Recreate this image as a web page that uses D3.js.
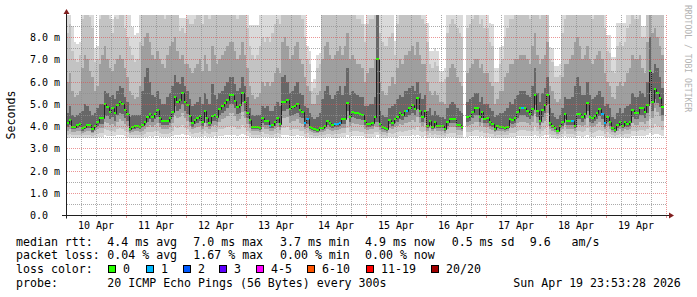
<!DOCTYPE html>
<html>
<head>
<meta charset="utf-8">
<script src="https://cdn.jsdelivr.net/npm/d3@7"></script>
<style>
  body { margin: 0; background: #fff; }
  text { font-family: "DejaVu Sans Mono", monospace; fill: #000; white-space: pre; }
</style>
</head>
<body>
<div id="chart"></div>
<script>
// smokeping "last 10 days", hourly steps starting 10 Apr 00:00
var startTime = Date.UTC(2026, 3, 10, 0, 0, 0);
var endTime = Date.UTC(2026, 3, 20, 0, 0, 0);
var stepMs = 3600 * 1000;

var dayLabels = ["10 Apr", "11 Apr", "12 Apr", "13 Apr", "14 Apr", "15 Apr", "16 Apr", "17 Apr", "18 Apr", "19 Apr"];
var yTicks = [0, 1, 2, 3, 4, 5, 6, 7, 8];
var yTickLabels = ["0.0", "1.0 m", "2.0 m", "3.0 m", "4.0 m", "5.0 m", "6.0 m", "7.0 m", "8.0 m"];

// median rtt (ms) per hour
var median = [
  4.12,4.27,3.97,3.97,4.05,4.08,3.93,3.98,4.05,4.05, 3.86,4.02,4.2,4.36,4.36,4.99,4.87,4.65,4.8,4.59,
  4.94,5.08,5.0,4.72,4.54,3.87,3.97,4.0,4.02,3.97, 4.05,4.2,4.42,4.53,4.42,4.55,4.72,4.36,4.23,4.23,
  4.23,4.35,4.65,5.32,5.09,5.17,5.47,5.09,4.94,4.45, 4.12,4.27,4.35,4.47,4.2,4.68,4.35,4.15,4.47,4.5,
  4.42,4.79,4.9,5.02,5.17,5.39,5.42,5.14,4.87,4.94, 5.51,5.09,4.6,4.27,3.97,3.97,3.97,3.9,4.35,4.23,
  4.23,4.02,4.05,4.2,4.35,4.08,5.09,5.1,5.17,4.77, 4.87,4.9,4.98,4.72,4.65,4.12,4.3,3.97,3.9,3.85,
  3.82,3.93,3.9,4.0,4.23,4.12,4.05,4.1,4.1,4.15, 4.3,4.3,5.02,4.42,4.65,4.6,4.57,4.53,4.5,4.23,
  4.08,4.1,4.12,4.42,7.0,4.08,3.95,3.9,3.87,4.27, 4.15,4.3,4.42,4.57,4.5,4.68,4.7,4.82,4.94,4.77,
  5.25,4.68,4.42,4.68,4.02,4.23,3.97,4.2,4.02,4.0, 4.0,3.87,4.17,4.32,4.32,4.32,4.05,4.05,3.97,null,
  4.42,4.47,4.62,4.82,4.82,4.42,4.65,4.32,4.35,4.17, 4.08,3.87,4.02,3.97,3.97,3.93,3.97,4.32,4.27,4.35,
  4.65,4.82,4.8,4.82,4.68,4.54,4.77,5.39,4.68,4.23, 4.72,4.94,5.42,4.12,4.02,3.9,3.78,4.02,4.17,4.53,
  4.23,4.23,4.23,4.02,4.53,4.53,4.42,4.53,5.02,4.42, 4.35,4.45,4.57,4.77,4.53,4.12,4.42,4.2,3.9,3.82,
  4.05,4.2,4.02,4.2,4.08,4.2,4.72,4.6,4.57,4.82, 4.82,4.62,4.94,6.47,5.09,5.69,5.51,5.27,4.87,null
];

// hours in which 1 of 20 pings was lost
var lossOneSteps = [81, 95, 96, 107, 108, 109, 136, 182, 202, 214, 215];

// smoke: sorted ping quantiles (ms); 9.5 = above the top of the graph
var p20 = [
  9.5,9.5,8.5,7.8,7.7,7.8,9.5,9.5,9.5,9.5, 9.5,7.5,7.6,9.5,9.5,9.5,9.5,9.5,8.8,9.5,
  9.5,9.5,9.5,9.5,9.5,9.5,8.45,8.1,8.2,9.0, 9.5,9.5,9.5,9.5,9.5,9.5,9.5,9.5,9.5,9.5,
  9.5,9.5,9.5,9.5,9.5,8.85,8.85,8.85,9.5,9.5, 9.5,9.5,9.5,9.5,9.5,9.5,9.5,9.5,9.5,9.5,
  9.5,9.5,9.5,9.5,9.5,9.5,9.5,9.5,9.5,9.5, 9.5,9.5,9.5,8.55,8.55,8.55,8.55,9.5,9.5,9.5,
  9.5,9.5,9.5,9.5,9.5,9.5,9.5,9.5,9.5,9.5, 9.5,9.5,9.5,9.5,9.5,9.5,7.6,7.4,6.0,6.1,
  7.2,7.3,9.5,9.5,9.5,9.5,9.5,9.5,9.5,9.5, 9.5,9.5,9.5,9.5,9.5,9.5,9.5,9.5,9.5,8.6,
  9.5,9.5,9.5,9.5,9.5,9.5,9.5,9.5,9.5,9.5, 9.5,7.85,9.5,9.5,9.5,9.5,9.5,9.5,9.5,9.5,
  9.5,9.5,9.5,9.5,8.65,7.4,7.4,7.5,7.4,6.5, 6.5,6.6,9.5,9.5,9.5,9.5,9.5,9.5,9.5,null,
  9.5,9.5,9.5,9.5,9.5,9.5,9.5,9.5,9.5,8.65, 8.6,6.6,6.6,7.55,7.6,9.5,9.5,9.5,9.5,9.5,
  9.5,9.5,9.5,9.5,9.5,9.5,9.5,9.5,9.5,9.5, 9.5,9.5,9.5,7.55,7.5,6.7,6.7,6.8,9.5,9.5,
  9.5,9.5,9.5,9.5,9.5,9.5,9.5,9.5,9.5,9.5, 9.5,9.5,9.5,9.5,9.5,9.5,8.1,8.1,7.1,7.1,
  8.65,8.65,8.65,8.65,9.5,9.5,9.5,9.5,9.5,9.5, 8.5,8.5,9.5,9.5,9.5,9.5,9.5,9.5,9.5,null
];
var p17 = [
  8.2,8.6,7.4,7.0,6.9,7.2,8.8,9.5,9.5,8.9, 8.4,6.9,7.0,8.8,9.5,9.5,9.2,8.8,8.2,8.9,
  8.8,9.2,9.0,8.4,8.0,7.6,7.2,6.9,7.0,7.8, 9.5,9.5,9.5,9.5,9.2,9.0,9.5,9.5,9.0,8.8,
  9.3,9.5,9.5,9.5,9.2,8.3,8.4,8.2,8.8,8.6, 8.6,8.8,9.0,9.2,8.6,9.5,9.0,8.8,9.5,9.5,
  9.0,9.2,9.5,9.5,9.5,9.5,9.5,9.2,8.8,9.0, 9.5,9.0,8.4,7.6,7.2,7.0,7.2,7.6,8.0,7.8,
  8.0,7.8,8.2,8.6,8.8,8.6,9.5,9.5,9.5,9.2, 9.2,9.5,9.5,9.0,8.8,8.0,7.0,6.8,5.6,5.7,
  6.6,6.8,9.0,9.5,9.5,9.2,9.0,9.2,9.5,9.5, 9.2,9.5,9.5,9.0,9.2,9.0,8.8,8.8,8.6,7.8,
  8.6,8.8,8.8,9.2,9.5,8.2,7.8,7.6,7.6,8.0, 8.2,7.2,8.6,9.0,9.0,9.2,9.2,9.5,9.5,9.2,
  9.5,9.2,8.8,8.6,7.8,6.8,6.6,6.9,6.7,6.0, 6.0,6.1,8.2,8.6,8.8,8.6,8.4,8.2,8.0,null,
  8.4,8.6,8.8,9.0,9.0,8.6,8.8,8.4,8.4,7.8, 7.6,6.0,6.0,6.8,7.0,8.0,8.4,8.8,8.8,9.0,
  9.0,9.2,9.2,9.2,9.0,8.8,9.5,9.5,9.2,8.8, 9.0,9.2,9.5,7.0,6.9,6.2,6.2,6.3,8.2,8.8,
  9.0,9.0,9.2,9.5,9.5,9.5,9.2,9.2,9.5,9.0, 8.8,9.0,9.2,9.5,9.0,8.4,7.4,7.3,6.5,6.4,
  7.6,7.8,7.6,7.8,8.4,8.6,9.0,8.8,8.8,9.0, 8.0,8.0,9.5,9.5,9.5,9.5,9.5,9.5,9.2,null
];
var p14 = [
  6.0,6.4,5.6,5.3,5.4,5.6,6.6,7.2,7.0,6.5, 6.2,5.6,5.8,6.8,7.2,7.6,7.0,6.6,6.5,6.8,
  7.0,7.2,7.0,6.6,6.2,5.6,5.4,5.2,5.3,5.8, 7.6,8.0,8.2,7.8,7.2,7.0,7.4,7.0,6.8,6.6,
  7.2,7.6,7.8,8.0,7.4,7.0,7.2,6.8,6.8,6.6, 6.4,6.6,6.8,7.0,6.5,7.2,6.8,6.5,7.6,7.2,
  6.8,7.0,7.2,7.4,7.6,7.8,7.8,7.4,7.0,7.2, 7.8,7.2,6.6,5.8,5.4,5.2,5.3,5.5,6.0,5.8,
  6.0,5.8,6.0,6.4,6.6,6.4,7.8,8.0,7.6,7.0, 7.2,7.6,7.8,7.0,6.8,6.2,5.8,5.6,5.0,5.0,
  5.4,5.6,7.0,7.6,7.8,7.2,7.0,7.2,7.4,7.6, 7.2,7.6,8.2,7.0,7.2,7.0,6.8,6.8,6.6,6.0,
  6.4,6.6,6.6,7.0,9.5,6.0,5.6,5.4,5.4,5.8, 6.2,5.9,6.6,7.0,6.8,7.2,7.2,7.4,7.6,7.2,
  7.8,7.2,6.8,6.8,6.0,5.6,5.4,5.6,5.4,5.1, 5.1,5.0,6.2,6.6,6.8,6.6,6.2,6.0,5.8,null,
  6.4,6.6,6.8,7.0,7.0,6.6,6.8,6.4,6.4,6.0, 5.8,5.0,5.2,5.6,5.6,6.2,6.4,6.8,6.8,7.0,
  7.0,7.2,7.2,7.2,7.0,6.8,7.6,8.2,7.2,6.8, 7.0,7.2,7.8,5.8,5.6,5.2,5.1,5.2,6.2,6.8,
  6.8,7.0,7.2,7.8,8.0,7.6,7.0,7.2,7.6,7.0, 6.8,7.0,7.2,7.4,7.0,6.4,6.0,5.8,5.3,5.2,
  5.8,6.0,5.8,6.0,6.4,6.6,7.2,7.0,7.0,7.2, 6.6,6.4,7.8,9.0,8.2,8.4,8.0,7.6,7.2,null
];
var p12 = [
  4.6,4.9,4.5,4.4,4.5,4.6,4.7,5.0,4.9,4.7, 4.5,4.6,4.8,5.0,5.0,5.6,5.5,5.3,5.4,5.2,
  5.6,5.8,5.7,5.3,5.1,4.4,4.5,4.5,4.5,4.5, 5.6,6.2,6.6,6.0,5.4,5.3,5.6,5.2,5.0,5.0,
  5.3,5.5,5.8,6.3,6.0,5.9,6.2,5.8,5.6,5.2, 4.9,5.0,5.1,5.3,5.0,5.5,5.2,5.0,5.9,5.4,
  5.2,5.5,5.6,5.8,6.0,6.2,6.2,5.9,5.6,5.7, 6.2,5.8,5.3,4.8,4.5,4.45,4.5,4.5,4.9,4.8,
  4.9,4.7,4.7,4.9,5.1,4.9,6.2,6.3,6.0,5.5, 5.6,5.8,6.0,5.5,5.4,4.9,4.8,4.6,4.4,4.3,
  4.4,4.6,5.2,5.6,5.8,5.4,5.2,5.4,5.6,5.8, 5.4,5.8,6.6,5.4,5.6,5.5,5.4,5.3,5.3,4.9,
  4.9,5.0,5.0,5.3,9.5,4.7,4.5,4.4,4.4,4.8, 4.9,5.0,5.2,5.4,5.3,5.6,5.6,5.7,5.8,5.6,
  6.0,5.5,5.2,5.4,4.7,4.8,4.5,4.7,4.5,4.4, 4.4,4.3,4.8,5.0,5.1,5.0,4.8,4.7,4.6,null,
  5.1,5.2,5.3,5.5,5.5,5.1,5.3,5.0,5.0,4.8, 4.7,4.4,4.5,4.6,4.6,4.7,4.8,5.1,5.0,5.2,
  5.4,5.6,5.6,5.6,5.4,5.3,5.8,6.6,5.5,5.1, 5.5,5.7,6.2,4.8,4.6,4.4,4.3,4.5,4.8,5.3,
  5.2,5.2,5.3,5.8,6.2,5.8,5.4,5.4,6.0,5.4, 5.2,5.3,5.4,5.6,5.3,4.9,5.0,4.8,4.4,4.3,
  4.6,4.8,4.6,4.8,4.9,5.0,5.5,5.3,5.3,5.6, 5.5,5.3,6.0,8.0,6.4,6.8,6.6,6.2,5.7,null
];
var p08 = [
  3.95,4.05,3.85,3.85,3.9,3.95,3.8,3.85,3.9,3.9, 3.75,3.9,4.0,4.1,4.1,4.5,4.45,4.3,4.4,4.25,
  4.5,4.6,4.55,4.35,4.25,3.78,3.85,3.88,3.9,3.85, 3.95,4.05,4.2,4.3,4.2,4.3,4.4,4.15,4.05,4.05,
  4.05,4.15,4.4,4.9,4.7,4.75,5.0,4.7,4.55,4.2, 3.98,4.08,4.12,4.22,4.02,4.4,4.12,4.0,4.22,4.25,
  4.2,4.5,4.6,4.7,4.8,5.0,5.0,4.8,4.55,4.6, 5.1,4.7,4.35,4.1,3.88,3.88,3.88,3.82,4.15,4.05,
  4.05,3.9,3.92,4.02,4.12,3.96,4.7,4.7,4.75,4.45, 4.5,4.55,4.6,4.4,4.35,3.98,4.1,3.88,3.82,3.78,
  3.75,3.85,3.82,3.9,4.05,3.98,3.92,3.96,3.96,4.0, 4.1,4.1,4.7,4.2,4.4,4.35,4.32,4.3,4.28,4.05,
  3.96,3.98,4.0,4.2,4.2,3.96,3.85,3.82,3.8,4.08, 4.0,4.12,4.2,4.32,4.28,4.4,4.42,4.5,4.58,4.48,
  4.75,4.4,4.2,4.4,3.92,4.05,3.88,4.02,3.92,3.9, 3.9,3.8,4.02,4.12,4.12,4.12,3.95,3.95,3.88,null,
  4.2,4.25,4.35,4.5,4.5,4.2,4.38,4.12,4.15,4.02, 3.96,3.8,3.92,3.88,3.88,3.84,3.88,4.12,4.08,4.12,
  4.38,4.5,4.48,4.5,4.4,4.3,4.45,4.95,4.4,4.05, 4.42,4.58,4.98,4.0,3.92,3.82,3.72,3.92,4.02,4.3,
  4.05,4.05,4.05,3.92,4.3,4.3,4.2,4.3,4.7,4.2, 4.15,4.22,4.32,4.45,4.3,3.98,4.2,4.02,3.82,3.75,
  3.92,4.02,3.92,4.02,3.96,4.02,4.4,4.32,4.3,4.48, 4.48,4.35,4.58,5.6,4.7,5.2,5.05,4.85,4.52,null
];
var p06 = [
  3.8,3.85,3.75,3.75,3.78,3.8,3.7,3.75,3.78,3.78, 3.68,3.78,3.85,3.92,3.92,4.2,4.15,4.05,4.1,4.0,
  4.2,4.3,4.25,4.1,4.0,3.7,3.75,3.77,3.78,3.75, 3.8,3.88,3.98,4.05,3.98,4.05,4.12,3.95,3.88,3.88,
  3.88,3.95,4.12,4.5,4.35,4.4,4.6,4.35,4.25,4.0, 3.85,3.92,3.95,4.02,3.88,4.12,3.95,3.86,4.02,4.04,
  4.02,4.2,4.3,4.35,4.45,4.6,4.6,4.45,4.25,4.3, 4.65,4.35,4.08,3.92,3.76,3.76,3.76,3.72,3.95,3.88,
  3.88,3.78,3.8,3.86,3.95,3.82,4.35,4.35,4.4,4.15, 4.22,4.25,4.3,4.12,4.08,3.85,3.92,3.76,3.72,3.7,
  3.68,3.75,3.73,3.78,3.88,3.84,3.8,3.83,3.83,3.86, 3.92,3.92,4.35,4.0,4.12,4.1,4.08,4.05,4.04,3.88,
  3.83,3.85,3.86,4.0,3.95,3.83,3.75,3.72,3.7,3.9, 3.86,3.95,4.0,4.08,4.04,4.14,4.15,4.2,4.26,4.18,
  4.4,4.14,3.99,4.14,3.8,3.9,3.76,3.88,3.8,3.78, 3.78,3.7,3.88,3.95,3.95,3.95,3.82,3.82,3.76,null,
  4.0,4.03,4.1,4.2,4.2,4.0,4.12,3.94,3.96,3.88, 3.84,3.72,3.8,3.76,3.76,3.74,3.76,3.95,3.92,3.95,
  4.12,4.2,4.2,4.2,4.14,4.05,4.18,4.55,4.12,3.88, 4.15,4.25,4.58,3.86,3.8,3.72,3.66,3.8,3.88,4.05,
  3.88,3.88,3.88,3.8,4.05,4.05,3.99,4.05,4.35,4.0, 3.96,4.02,4.08,4.18,4.05,3.85,4.0,3.88,3.72,3.68,
  3.8,3.88,3.8,3.88,3.83,3.88,4.14,4.06,4.05,4.18, 4.18,4.08,4.25,5.0,4.35,4.8,4.62,4.45,4.22,null
];
var p03 = [
  3.62,3.65,3.6,3.6,3.62,3.62,3.58,3.6,3.62,3.62, 3.56,3.62,3.66,3.7,3.7,3.85,3.82,3.76,3.8,3.75,
  3.85,3.9,3.88,3.78,3.72,3.58,3.6,3.61,3.62,3.6, 3.62,3.66,3.72,3.75,3.72,3.76,3.8,3.7,3.66,3.66,
  3.66,3.7,3.8,4.0,3.92,3.95,4.05,3.92,3.85,3.75, 3.65,3.68,3.7,3.74,3.66,3.78,3.7,3.65,3.74,3.75,
  3.74,3.85,3.88,3.92,3.96,4.02,4.02,3.95,3.85,3.88, 4.05,3.92,3.78,3.7,3.6,3.6,3.6,3.58,3.72,3.66,
  3.66,3.62,3.62,3.65,3.7,3.63,3.92,3.92,3.95,3.82, 3.85,3.86,3.88,3.8,3.78,3.65,3.7,3.6,3.58,3.57,
  3.56,3.6,3.59,3.62,3.66,3.64,3.62,3.63,3.63,3.65, 3.7,3.7,3.92,3.72,3.78,3.77,3.76,3.75,3.75,3.66,
  3.63,3.64,3.65,3.72,3.75,3.63,3.6,3.58,3.57,3.68, 3.65,3.7,3.72,3.76,3.75,3.8,3.8,3.83,3.86,3.82,
  3.95,3.8,3.72,3.8,3.62,3.67,3.6,3.66,3.62,3.62, 3.62,3.57,3.66,3.7,3.7,3.7,3.62,3.62,3.6,null,
  3.72,3.74,3.77,3.82,3.82,3.72,3.78,3.7,3.7,3.66, 3.63,3.57,3.62,3.6,3.6,3.58,3.6,3.7,3.68,3.7,
  3.78,3.82,3.82,3.82,3.8,3.76,3.8,4.0,3.8,3.66, 3.8,3.86,4.02,3.65,3.62,3.58,3.55,3.62,3.66,3.76,
  3.66,3.66,3.66,3.62,3.76,3.76,3.72,3.76,3.92,3.72, 3.7,3.72,3.76,3.82,3.76,3.65,3.72,3.66,3.58,3.56,
  3.62,3.66,3.62,3.66,3.63,3.66,3.8,3.76,3.76,3.82, 3.82,3.78,3.86,4.3,3.92,4.1,4.02,3.95,3.84,null
];
var p01 = [
  3.48,3.5,3.47,3.47,3.48,3.48,3.46,3.47,3.48,3.48, 3.45,3.48,3.5,3.52,3.52,3.58,3.57,3.55,3.56,3.54,
  3.58,3.6,3.59,3.55,3.52,3.46,3.47,3.48,3.48,3.47, 3.48,3.5,3.52,3.54,3.52,3.54,3.56,3.52,3.5,3.5,
  3.5,3.52,3.55,3.62,3.6,3.6,3.65,3.6,3.58,3.54, 3.5,3.51,3.52,3.53,3.5,3.55,3.52,3.5,3.53,3.54,
  3.53,3.56,3.57,3.58,3.6,3.62,3.62,3.6,3.57,3.58, 3.64,3.6,3.55,3.52,3.47,3.47,3.47,3.46,3.52,3.5,
  3.5,3.48,3.48,3.5,3.52,3.48,3.6,3.6,3.6,3.56, 3.56,3.57,3.58,3.55,3.54,3.5,3.52,3.47,3.46,3.45,
  3.45,3.46,3.46,3.47,3.5,3.49,3.48,3.48,3.48,3.49, 3.52,3.52,3.6,3.53,3.55,3.55,3.54,3.54,3.54,3.5,
  3.48,3.48,3.49,3.53,3.6,3.48,3.46,3.45,3.45,3.5, 3.49,3.52,3.53,3.54,3.54,3.56,3.56,3.57,3.58,3.57,
  3.6,3.56,3.53,3.56,3.48,3.5,3.47,3.5,3.48,3.48, 3.48,3.45,3.5,3.52,3.52,3.52,3.48,3.48,3.47,null,
  3.53,3.54,3.55,3.57,3.57,3.53,3.55,3.52,3.52,3.5, 3.48,3.45,3.48,3.47,3.47,3.46,3.47,3.52,3.51,3.52,
  3.55,3.57,3.57,3.57,3.56,3.54,3.56,3.62,3.56,3.5, 3.56,3.58,3.62,3.49,3.48,3.46,3.44,3.48,3.5,3.54,
  3.5,3.5,3.5,3.48,3.54,3.54,3.53,3.54,3.6,3.53, 3.52,3.53,3.54,3.57,3.54,3.5,3.53,3.5,3.46,3.45,
  3.48,3.5,3.48,3.5,3.48,3.5,3.56,3.54,3.54,3.57, 3.57,3.55,3.58,3.7,3.6,3.66,3.64,3.62,3.57,null
];

// legend texts
var rttLabels = ["4.4 ms avg", "7.0 ms max", "3.7 ms min", "4.9 ms now", "0.5 ms sd", "9.6   am/s"];
var lossStats = ["0.04 % avg", "1.67 % max", "0.00 % min", "0.00 % now"];
var lossLevels = ["0", "1", "2", "3", "4-5", "6-10", "11-19", "20/20"];
var lossColors = ["#26ff00", "#00b8ff", "#0059ff", "#5e00ff", "#ff00ff", "#ff5500", "#ff0000", "#a00000"];
var probeText = "20 ICMP Echo Pings (56 Bytes) every 300s";
var stampText = "Sun Apr 19 23:53:28 2026";

var width = 697, height = 297;
var svg = d3.select("#chart").append("svg")
  .attr("width", width)
  .attr("height", height);

var x = d3.scaleUtc()
  .domain([new Date(startTime), new Date(endTime)])
  .range([66, 666]);
var y = d3.scaleLinear()
  .domain([0, 9])
  .range([215, 15]);

function stepTime(i) { return new Date(startTime + i * stepMs); }
function sx(i) { return Math.round(x(stepTime(i))); }
function sy(v) { return Math.round(y(Math.min(v, 9))); }

var steps = d3.range(median.length);

// smoke bands, outer (light) to inner (dark)
var bands = [
  { lo: p01, hi: p20, color: "#dadada" },
  { lo: p03, hi: p17, color: "#c3c3c3" },
  { lo: p06, hi: p14, color: "#9f9f9f" },
  { lo: p08, hi: p12, color: "#676767" }
];

var smoke = svg.append("g").attr("shape-rendering", "crispEdges");
bands.forEach(function (b) {
  smoke.append("g")
    .attr("fill", b.color)
    .selectAll("rect")
    .data(steps.filter(function (i) { return b.hi[i] != null; }))
    .enter().append("rect")
    .attr("x", function (i) { return sx(i); })
    .attr("width", function (i) { return sx(i + 1) - sx(i); })
    .attr("y", function (i) { return sy(b.hi[i]); })
    .attr("height", function (i) { return sy(b.lo[i]) - sy(b.hi[i]); });
});

// median: dark connecting line, then coloured blocks by loss
var medianLine = d3.line()
  .defined(function (i) { return median[i] != null; })
  .x(function (i) { return sx(i) + 0.5; })
  .y(function (i) { return sy(median[i]) + 0.5; })
  .curve(d3.curveStepAfter);

svg.append("path")
  .datum(steps)
  .attr("d", medianLine)
  .attr("fill", "none")
  .attr("stroke", "#202020")
  .attr("stroke-width", 1);

svg.append("g")
  .attr("shape-rendering", "crispEdges")
  .selectAll("rect")
  .data(steps.filter(function (i) { return median[i] != null; }))
  .enter().append("rect")
  .attr("x", function (i) { return sx(i); })
  .attr("width", function (i) { return sx(i + 1) - sx(i); })
  .attr("y", function (i) { return sy(median[i]) - 1; })
  .attr("height", 2)
  .attr("fill", function (i) { return lossOneSteps.indexOf(i) >= 0 ? lossColors[1] : lossColors[0]; });

// grid (rrdtool draws it over the graph)
var grid = svg.append("g").attr("fill", "none").attr("stroke-dasharray", "1,1");
var minorGrid = "rgba(143,143,143,0.75)", majorGrid = "rgba(222,79,79,0.6)";
var x0 = x.range()[0], x1 = x.range()[1];

d3.range(0.5, 9, 0.5).forEach(function (v) {
  var yy = Math.round(y(v)) + 0.5;
  grid.append("line")
    .attr("x1", x0 + 1).attr("x2", x1 + 1)
    .attr("y1", yy).attr("y2", yy)
    .attr("stroke", v % 1 === 0 ? majorGrid : minorGrid);
});

d3.utcHour.every(6).range(x.domain()[0], new Date(endTime + 1)).forEach(function (d) {
  if (+d === startTime) return;
  var xx = Math.round(x(d)) + 0.5;
  var major = d.getUTCHours() === 0;
  grid.append("line")
    .attr("x1", xx).attr("x2", xx)
    .attr("y1", y.range()[1]).attr("y2", y.range()[0])
    .attr("stroke", major ? majorGrid : minorGrid);
  svg.append("line")
    .attr("x1", xx).attr("x2", xx)
    .attr("y1", y.range()[0] + 1).attr("y2", y.range()[0] + (major ? 3 : 2))
    .attr("stroke", major ? majorGrid : minorGrid);
});

// axes
var axisColor = "#1f1f1f", arrowColor = "#801f1f";
var ay = Math.round(y(0)) + 0.5, ax = x0 + 0.5;
svg.append("line")
  .attr("x1", x0 - 4).attr("x2", x1 + 4)
  .attr("y1", ay).attr("y2", ay)
  .attr("stroke", axisColor);
svg.append("line")
  .attr("x1", ax).attr("x2", ax)
  .attr("y1", ay + 3).attr("y2", y.range()[1] - 2)
  .attr("stroke", axisColor);
svg.append("path")
  .attr("d", "M" + (x1 + 3) + "," + (ay - 3) + "L" + (x1 + 8) + "," + ay + "L" + (x1 + 3) + "," + (ay + 3) + "Z")
  .attr("fill", arrowColor);
svg.append("path")
  .attr("d", "M" + (ax - 3) + "," + (y.range()[1] - 1) + "L" + ax + "," + (y.range()[1] - 6) + "L" + (ax + 3) + "," + (y.range()[1] - 1) + "Z")
  .attr("fill", arrowColor);

// y tick labels
svg.append("g").selectAll("text")
  .data(yTicks)
  .enter().append("text")
  .attr("x", 30)
  .attr("y", function (d) { return Math.round(y(d)) + 4; })
  .attr("font-size", "10px")
  .text(function (d, i) { return yTickLabels[i]; });

// x day labels at noon
svg.append("g").selectAll("text")
  .data(dayLabels)
  .enter().append("text")
  .attr("x", function (d, i) { return x(new Date(startTime + (i + 0.5) * 86400000)); })
  .attr("y", 229)
  .attr("text-anchor", "middle")
  .attr("font-size", "10px")
  .text(function (d) { return d; });

// axis title
svg.append("text")
  .attr("transform", "translate(11," + ((y.range()[0] + y.range()[1]) / 2) + ") rotate(-90)")
  .attr("text-anchor", "middle")
  .attr("dominant-baseline", "central")
  .attr("font-size", "11.6px")
  .text("Seconds");

// watermark
svg.append("text")
  .attr("transform", "translate(688,5) rotate(90)")
  .attr("dominant-baseline", "central")
  .attr("font-size", "8.1px")
  .style("fill", "#b3b3b3")
  .text("RRDTOOL / TOBI OETIKER");

// legend
var legend = svg.append("g").attr("font-size", "11.6px");
var colX = [107.3, 193.3, 280, 365, 451.7, 529.7];
var rows = [245.8, 259.3, 273, 286.6];

legend.append("text").attr("x", 16).attr("y", rows[0]).text("median rtt:");
rttLabels.forEach(function (s, i) {
  legend.append("text").attr("x", colX[i]).attr("y", rows[0]).text(s);
});
legend.append("text").attr("x", 16).attr("y", rows[1]).text("packet loss:");
lossStats.forEach(function (s, i) {
  legend.append("text").attr("x", colX[i]).attr("y", rows[1]).text(s);
});
legend.append("text").attr("x", 16).attr("y", rows[2]).text("loss color:");
var boxX = [108, 146, 183, 219, 256, 307, 366, 431];
lossLevels.forEach(function (s, i) {
  legend.append("rect")
    .attr("x", boxX[i] + 0.5).attr("y", rows[2] - 7.5)
    .attr("width", 7).attr("height", 7)
    .attr("fill", lossColors[i])
    .attr("stroke", "#000");
  legend.append("text").attr("x", boxX[i] + 15).attr("y", rows[2]).text(s);
});
legend.append("text").attr("x", 16).attr("y", rows[3]).text("probe:");
legend.append("text").attr("x", colX[0]).attr("y", rows[3]).text(probeText);
legend.append("text").attr("x", 513.3).attr("y", rows[3]).text(stampText);
</script>
</body>
</html>
